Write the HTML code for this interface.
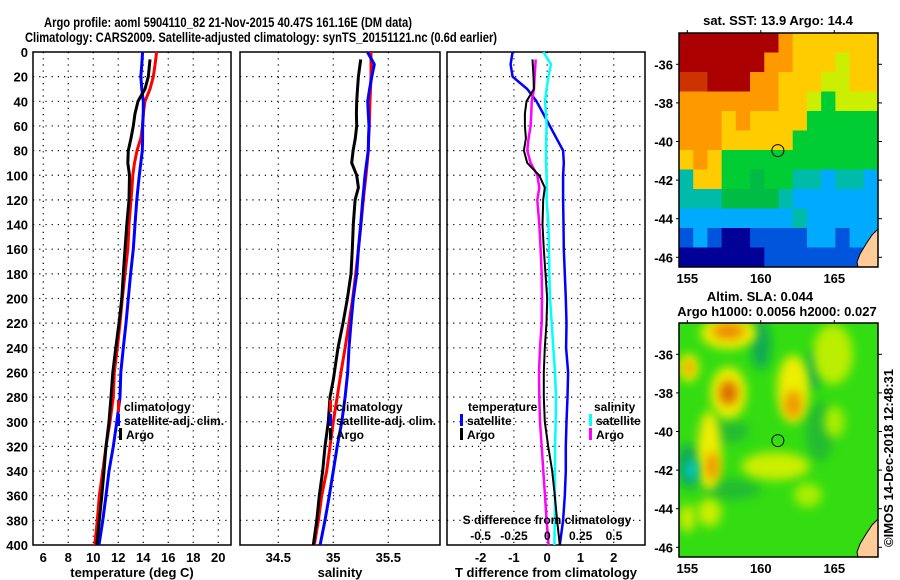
<!DOCTYPE html>
<html><head><meta charset="utf-8"><style>
html,body{margin:0;padding:0;background:#fff;}
svg{display:block;font-family:"Liberation Sans",sans-serif;}
text{font-size:13px;font-weight:bold;fill:#000;}
text.leg{font-size:12px;}
</style></head><body>
<svg id="chart" width="900" height="580" viewBox="0 0 900 580">
<defs>
<filter id="blur" x="-50%" y="-50%" width="200%" height="200%"><feGaussianBlur stdDeviation="5"/></filter>
<clipPath id="clipMap1"><rect x="679" y="33" width="199" height="234"/></clipPath>
<clipPath id="clipMap2"><rect x="679" y="323" width="199" height="234"/></clipPath>
</defs>
<text x="44" y="27" textLength="368" lengthAdjust="spacingAndGlyphs" style="font-size:14px">Argo profile: aoml 5904110_82 21-Nov-2015 40.47S 161.16E (DM data)</text>
<text x="25" y="42" textLength="472" lengthAdjust="spacingAndGlyphs" style="font-size:14px">Climatology: CARS2009. Satellite-adjusted climatology: synTS_20151121.nc (0.6d earlier)</text>
</svg>
<script>
// ---------- data ----------
const depths = [0,10,20,30,40,50,60,70,80,90,100,110,120,140,160,180,200,220,240,260,280,300,320,340,360,380,400];
const tempArgoDepths = [6,20,30,40,50,60,70,80,90,100,120,140,160,180,200,220,240,260,280,300,320,340,360,380,400];
const tempArgo = [14.54,14.4,14.14,13.58,13.34,13.2,13.02,12.8,12.76,12.9,12.86,12.68,12.54,12.4,12.28,12.06,11.8,11.56,11.42,11.26,11.02,10.86,10.68,10.48,10.28];
const tempClim = [15.07,14.95,14.8,14.54,14.14,14.0,13.95,13.8,13.5,13.3,13.16,13.1,13.02,12.86,12.76,12.54,12.32,12.14,11.92,11.68,11.6,11.34,11.02,10.76,10.48,10.32,10.12];
const tempSat = [13.95,13.88,13.8,13.88,14.0,14.0,13.95,13.95,13.92,13.8,13.68,13.58,13.48,13.34,13.2,12.99,12.8,12.62,12.4,12.2,12.14,11.88,11.6,11.26,11.02,10.76,10.46];
const salArgo = [35.249,35.228,35.22,35.213,35.21,35.213,35.2,35.18,35.167,35.213,35.228,35.198,35.182,35.173,35.161,35.128,35.088,35.043,35.0,34.97,34.955,34.925,34.904,34.873,34.85,34.818];
const salArgoDepths = [6,20,30,40,50,60,70,80,90,100,110,120,140,160,180,200,220,240,266,280,300,320,340,360,380,400];
const salClim = [35.343,35.343,35.343,35.338,35.334,35.33,35.327,35.322,35.318,35.308,35.297,35.285,35.273,35.252,35.228,35.204,35.176,35.143,35.107,35.07,35.036,35.0,34.97,34.94,34.895,34.865,34.827];
const salSat = [35.31,35.373,35.35,35.33,35.313,35.318,35.325,35.32,35.318,35.303,35.288,35.278,35.267,35.249,35.228,35.213,35.182,35.161,35.143,35.131,35.107,35.077,35.036,35.0,34.964,34.925,34.88];
const tDiffSat = [-1.04,-1.1,-1.04,-0.6,-0.32,-0.12,0.08,0.28,0.48,0.5,0.48,0.48,0.48,0.49,0.5,0.53,0.56,0.58,0.57,0.63,0.61,0.58,0.56,0.56,0.53,0.48,0.38];
const tDiffArgoDepths = [6,20,30,40,50,60,70,80,90,100,110,120,140,160,180,200,220,240,260,280,300,320,340,360,380,400];
const tDiffArgo = [-0.44,-0.41,-0.4,-0.62,-0.67,-0.67,-0.64,-0.7,-0.6,-0.24,-0.07,-0.12,-0.14,-0.1,-0.05,0.0,-0.02,-0.07,-0.1,-0.1,-0.07,0.03,0.15,0.23,0.3,0.38];
const sDiffArgo = [-0.087,-0.095,-0.1,-0.117,-0.12,-0.125,-0.14,-0.15,-0.125,-0.075,-0.06,-0.075,-0.06,-0.05,-0.042,-0.04,-0.042,-0.055,-0.062,-0.06,-0.055,-0.042,-0.03,-0.017,-0.005,0.01];
const sDiffSat = [-0.03,0.028,0.008,-0.005,-0.017,-0.01,-0.005,-0.008,-0.01,-0.01,-0.005,-0.005,-0.005,0.008,0.013,0.015,0.02,0.033,0.045,0.058,0.065,0.063,0.058,0.058,0.058,0.056,0.053];
const depthTicks = [0,20,40,60,80,100,120,140,160,180,200,220,240,260,280,300,320,340,360,380,400];
const tempTicks = [6,8,10,12,14,16,18,20];
const salTicks = [34.5,35,35.5];
const tDiffTicks = [-2,-1,0,1,2];
const sDiffTicks = [-0.5,-0.25,0,0.25,0.5];
const latTicks = [-36,-38,-40,-42,-44,-46];
const lonTicks = [155,160,165];
const argoLon = 161.16, argoLat = -40.47;

// ---------- helpers ----------
const NS = "http://www.w3.org/2000/svg";
const svg = document.getElementById('chart');
function mk(tag, attrs, parent){const e=document.createElementNS(NS,tag);for(const k in attrs)e.setAttribute(k,attrs[k]);(parent||svg).appendChild(e);return e;}
const yD = d => 52 + d*1.2325;
const panels = {
  temp:{x0:33,x1:231,lo:5.18,hi:21.02},
  sal:{x0:240,x1:440,lo:34.152,hi:35.97},
  diff:{x0:447,x1:645,lo:-3.01,hi:2.94}
};
function px(p,v){return p.x0+(v-p.lo)/(p.hi-p.lo)*(p.x1-p.x0);}
const sDiffScale = v => 547.3 + v*133.3;

function drawPanel(key,name,xTicks,xLabelFmt,xTitle){
  const p=panels[key];
  const g=mk('g',{});
  
  
  depthTicks.forEach(d=>{
    if(d===0||d===400)return;
    const l=mk('line',{x1:p.x0,x2:p.x1,y1:yD(d),y2:yD(d),stroke:'#000','stroke-width':1.2,'stroke-dasharray':'1.2,5'},g);
    
    
  });
  xTicks.forEach(v=>{
    const x=px(p,v);
    const l=mk('line',{x1:x,x2:x,y1:52,y2:545,stroke:'#000','stroke-width':1.2,'stroke-dasharray':'1.2,5'},g);
    
    
    if(xLabelFmt){
      const t=mk('text',{x:x,y:562,'text-anchor':'middle'},g);
      t.textContent=xLabelFmt(v);
      
      
    }
  });
  const fr=mk('rect',{x:p.x0,y:52,width:p.x1-p.x0,height:493,fill:'none',stroke:'#000','stroke-width':1.5},g);
  
  
  const tt=mk('text',{x:(p.x0+p.x1)/2,y:577,'text-anchor':'middle'},g);
  tt.textContent=xTitle;
  
  
  return g;
}
function line(g,name,xs,ds,xf,color,w){
  const pts=xs.map((v,i)=>xf(v).toFixed(1)+','+yD(ds[i]).toFixed(1)).join(' ');
  const l=mk('polyline',{points:pts,fill:'none',stroke:color,'stroke-width':w,'stroke-linejoin':'round'},g);
  
  
}
function legend(g,name,x,y,color,label){
  const r=mk('rect',{x:x,y:y-11,width:3,height:12,fill:color},g);
  
  
  const t=mk('text',{x:x+7,y:y,'class':'leg'},g);
  t.textContent=label;
  
  
}

// depth labels
depthTicks.forEach(d=>{
  const t=mk('text',{x:28,y:yD(d)+5,'text-anchor':'end'});
  t.textContent=d;
  
  
});

// temperature panel
const gT=drawPanel('temp','temperature',tempTicks,v=>v,'temperature (deg C)');
const pT=panels.temp;
line(gT,'temp-climatology-line',tempClim,depths,v=>px(pT,v),'#ff0000',3);
line(gT,'temp-satellite-line',tempSat,depths,v=>px(pT,v),'#0000ff',3);
line(gT,'temp-argo-line',tempArgo,tempArgoDepths,v=>px(pT,v),'#000000',3);
legend(gT,'temp-legend-climatology',117,411,'#ff0000','climatology');
legend(gT,'temp-legend-satellite',117,425,'#0000ff','satellite-adj. clim.');
legend(gT,'temp-legend-argo',119,439,'#000000','Argo');

// salinity panel
const gS=drawPanel('sal','salinity',salTicks,v=>v,'salinity');
const pS=panels.sal;
line(gS,'sal-climatology-line',salClim,depths,v=>px(pS,v),'#ff0000',3);
line(gS,'sal-satellite-line',salSat,depths,v=>px(pS,v),'#0000ff',3);
line(gS,'sal-argo-line',salArgo,salArgoDepths,v=>px(pS,v),'#000000',3);
legend(gS,'sal-legend-climatology',329,411,'#ff0000','climatology');
legend(gS,'sal-legend-satellite',329,425,'#0000ff','satellite-adj. clim.');
legend(gS,'sal-legend-argo',329,439,'#000000','Argo');

// difference panel
const gD=drawPanel('diff','difference',tDiffTicks,v=>v,'T difference from climatology');
const pD=panels.diff;
line(gD,'t-diff-satellite-line',tDiffSat,depths,v=>px(pD,v),'#0000ff',2.5);
line(gD,'s-diff-satellite-line',sDiffSat,depths,sDiffScale,'#00ffff',2.5);
line(gD,'s-diff-argo-line',sDiffArgo,tDiffArgoDepths,sDiffScale,'#ff00ff',2.5);
line(gD,'t-diff-argo-line',tDiffArgo,tDiffArgoDepths,v=>px(pD,v),'#000000',2);
{
  const t=mk('text',{x:468,y:411,'class':'leg'},gD);t.textContent='temperature';
  
  
  const s=mk('text',{x:594,y:411,'class':'leg'},gD);s.textContent='salinity';
  
  
}
legend(gD,'diff-legend-t-satellite',460,425,'#0000ff','satellite');
legend(gD,'diff-legend-t-argo',460,439,'#000000','Argo');
legend(gD,'diff-legend-s-satellite',589,425,'#00ffff','satellite');
legend(gD,'diff-legend-s-argo',589,439,'#ff00ff','Argo');
{
  const t=mk('text',{x:547,y:524,'text-anchor':'middle','class':'leg'},gD);t.textContent='S difference from climatology';
  
  
}
sDiffTicks.forEach(v=>{
  const t=mk('text',{x:sDiffScale(v),y:540,'text-anchor':'middle','class':'leg'},gD);
  t.textContent=v;
  
  
});

// ---------- maps ----------
const mx = lon => 687.3 + (lon-155)*14.7;
const my = (lat,top) => top + 31.3 + (-36-lat)*19.3;
const sstColors = {R:'#aa0000',r:'#cc3300',o:'#ff9900',y:'#ffcc00',l:'#ccee00',g:'#00cc33',G:'#00bb44',c:'#00bbaa',b:'#00aaff',B:'#0055dd',N:'#000099'};
const sstRows = [
 "RRRRRRRoyyyyyyy",
 "RRRRRRooyyylyyy",
 "rrRRRooyyyllyyy",
 "oooooooyylglllyy",
 "oooyoyyyygggggg",
 "oooyyyyyggggggg",
 "yoyggggggggggggg",
 "cyyggGggccbccbb",
 "cccGGGGcbbbbbbb",
 "bbbbbbbbcbbbbbb",
 "BbBNNBBBBbbBbbb",
 "NNNNNNBBBBBBBBB"
];
function drawMap(name){
  const g=mk('g',{});
  
  
  return g;
}
// SST map
const gM1=drawMap('sst-map');
const inner1=mk('g',{'clip-path':'url(#clipMap1)'},gM1);
const cw=199/14, ch=234/12;
sstRows.forEach((row,ri)=>{
  for(let ci=0;ci<14;ci++){
    const c=row[ci];
    const r=mk('rect',{x:679+ci*cw,y:33+ri*ch,width:cw+0.5,height:ch+0.5,fill:sstColors[c]},inner1);
    
    
  }
});
{
  const land=mk('polygon',{points:'878,229 872,235 866,244 860,254 857,262 858,267 878,267',fill:'#ffcc99',stroke:'#000','stroke-width':1},inner1);
  
  
}
// SLA map
const gM2=drawMap('sla-map');
const inner2=mk('g',{'clip-path':'url(#clipMap2)'},gM2);
{
  const bg=mk('rect',{x:679,y:323,width:199,height:234,fill:'#33dd11'},inner2);
  
  
}
const slaBlobs=[
 [160,-35.5,10,25,'#11aa55'],[163.6,-36.8,8,20,'#11aa55'],[157.5,-40,25,12,'#22bb33'],[158,-43,30,10,'#22bb33'],
 [155.2,-41.8,14,22,'#11aa55'],[164,-40,14,30,'#22bb33'],
 [157.8,-34.9,28,16,'#eeee00'],[155.1,-36.7,10,14,'#eeee00'],[157.8,-38,18,26,'#eeee00'],[156.5,-41,12,40,'#eeee00'],
 [162.2,-37.8,16,34,'#eeee00'],[164.9,-36,20,30,'#bbee00'],[161,-41.8,34,14,'#ccee00'],[156.5,-44.2,12,14,'#ccee00'],
 [155,-44.5,8,14,'#ccee00'],[163.2,-43.3,14,12,'#aaee00'],[165,-39.5,10,16,'#aaee00'],
 [157.8,-34.8,16,8,'#ee8800'],[157.8,-38,9,12,'#dd6600'],[156.7,-41.8,7,14,'#ee9900'],[162.2,-38.6,9,14,'#ee9900'],
 [155.1,-36.7,5,7,'#ee9900'],[155.3,-42,6,10,'#00cccc']
];
slaBlobs.forEach(b=>{
  const e=mk('ellipse',{cx:mx(b[0]),cy:my(b[1],323),rx:b[2],ry:b[3],fill:b[4],filter:'url(#blur)'},inner2);
  
  
});
{
  const land=mk('polygon',{points:'878,519 872,525 866,534 860,544 857,552 858,557 878,557',fill:'#ffcc99',stroke:'#000','stroke-width':1},inner2);
  
  
}
[[33,gM1,'sst'],[323,gM2,'sla']].forEach(([top,g,nm])=>{
  const fr=mk('rect',{x:679,y:top,width:199,height:234,fill:'none',stroke:'#000','stroke-width':1.5},g);
  
  
  const c=mk('circle',{cx:mx(argoLon),cy:my(argoLat,top),r:6,fill:'none',stroke:'#000','stroke-width':1},g);
  
  
  latTicks.forEach(la=>{
    const y=my(la,top);
    const t=mk('text',{x:673,y:y+5,'text-anchor':'end'},g);
    t.textContent=la;
    
    
    const k=mk('line',{x1:676,x2:679,y1:y,y2:y,stroke:'#000'},g);
    
    
    const k2=mk('line',{x1:878,x2:882,y1:y,y2:y,stroke:'#000'},g);
    
    
  });
  lonTicks.forEach(lo=>{
    const x=mx(lo);
    const t=mk('text',{x:x,y:top+250,'text-anchor':'middle'},g);
    t.textContent=lo;
    
    
    const k=mk('line',{x1:x,x2:x,y1:top-3,y2:top,stroke:'#000'},g);
    
    
  });
});
{
  const t=mk('text',{x:778,y:25,'text-anchor':'middle'});t.textContent='sat. SST: 13.9 Argo: 14.4';
  
  
  const t2=mk('text',{x:760,y:301,'text-anchor':'middle'});t2.textContent='Altim. SLA: 0.044';
  
  
  const t3=mk('text',{x:777,y:316,'text-anchor':'middle'});t3.textContent='Argo h1000: 0.0056 h2000: 0.027';
  
  
  const t4=mk('text',{x:0,y:0,'text-anchor':'middle',transform:'translate(893,458) rotate(-90)'});t4.textContent='©IMOS 14-Dec-2018 12:48:31';
  
  
}
</script>
</body></html>
